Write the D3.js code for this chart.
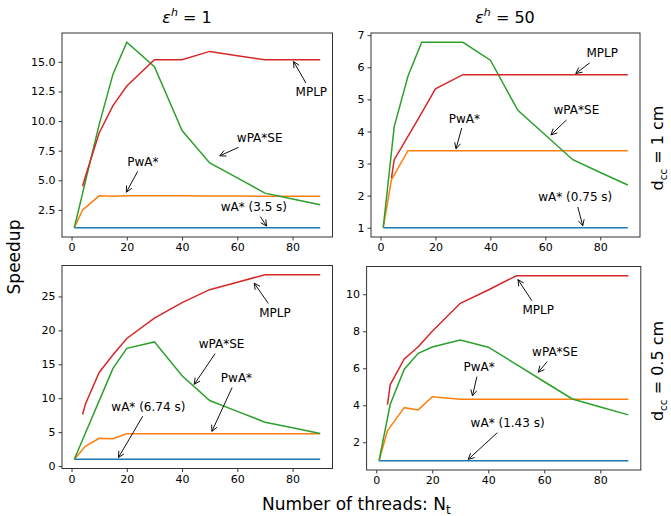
<!DOCTYPE html>
<html>
<head>
<meta charset="utf-8">
<script src="https://cdn.jsdelivr.net/npm/d3@7"></script>
<style>
  body { margin: 0; background: #fff; }
  text { font-family: 'DejaVu Sans', sans-serif; fill: #000; }
</style>
</head>
<body>
<div id="chart"></div>
<script>
// number of threads (shared by all panels)
const threads = [1, 4, 5, 10, 15, 20, 30, 40, 50, 60, 70, 80, 90]

// eps_h = 1, d_cc = 1 cm
const wA_e1_d1 = [1, 1, 1, 1, 1, 1, 1, 1, 1, 1, 1, 1, 1]
const pwA_e1_d1 = [1, 2.5, 2.7, 3.69, 3.65, 3.7, 3.7, 3.7, 3.67, 3.67, 3.65, 3.65, 3.65]
const wPASE_e1_d1 = [1, 3.9, 4.9, 9.7, 13.96, 16.65, 14.58, 9.2, 6.47, 5.2, 3.92, 3.42, 2.93]
const mplp_e1_d1 = [null, 4.5, 5.3, 9.0, 11.3, 12.96, 15.17, 15.17, 15.88, 15.52, 15.17, 15.17, 15.17]

// eps_h = 50, d_cc = 1 cm
const wA_e50_d1 = [1, 1, 1, 1, 1, 1, 1, 1, 1, 1, 1, 1, 1]
const pwA_e50_d1 = [1, 2.5, 2.65, 3.4, 3.4, 3.4, 3.4, 3.4, 3.4, 3.4, 3.4, 3.4, 3.4]
const wPASE_e50_d1 = [1, 3.36, 4.15, 5.72, 6.78, 6.78, 6.78, 6.22, 4.66, 3.89, 3.12, 2.72, 2.33]
const mplp_e50_d1 = [null, 2.55, 3.12, 3.85, 4.58, 5.33, 5.77, 5.77, 5.77, 5.77, 5.77, 5.77, 5.77]

// eps_h = 1, d_cc = 0.5 cm
const wA_e1_d05 = [1, 1, 1, 1, 1, 1, 1, 1, 1, 1, 1, 1, 1]
const pwA_e1_d05 = [1, 2.43, 2.9, 4.08, 4.03, 4.76, 4.76, 4.75, 4.75, 4.75, 4.75, 4.75, 4.75]
const wPASE_e1_d05 = [1, 3.87, 4.83, 9.61, 14.4, 17.35, 18.3, 13.3, 9.66, 8.06, 6.47, 5.66, 4.8]
const mplp_e1_d05 = [null, 7.6, 9.1, 13.8, 16.4, 18.8, 21.8, 24.1, 26.0, 27.1, 28.2, 28.2, 28.2]

// eps_h = 50, d_cc = 0.5 cm
const wA_e50_d05 = [1, 1, 1, 1, 1, 1, 1, 1, 1, 1, 1, 1, 1]
const pwA_e50_d05 = [1, 2.62, 2.83, 3.87, 3.75, 4.46, 4.33, 4.33, 4.33, 4.33, 4.33, 4.33, 4.33]
const wPASE_e50_d05 = [1, 3.3, 4.05, 5.95, 6.81, 7.15, 7.52, 7.14, 6.21, 5.27, 4.34, 3.91, 3.48]
const mplp_e50_d05 = [null, 4.03, 5.12, 6.5, 7.16, 8.0, 9.51, 10.23, 11.0, 11.0, 11.0, 11.0, 11.0]

const seriesNames = ['wA*', 'PwA*', 'wPA*SE', 'MPLP']
const seriesColors = ['#1f77b4', '#ff7f0e', '#2ca02c', '#d62728']

// annotations: label, arrow tip [threads, speedup], text centre [threads, speedup]
const notes_e1_d1 = [
  ['MPLP', [80, 15.17], [86.8, 12.43]],
  ['wPA*SE', [53, 7.0], [68.1, 8.61]],
  ['PwA*', [19.5, 3.85], [25.8, 6.58]],
  ['wA* (3.5 s)', [71, 1], [66, 2.76]]
]
const notes_e50_d1 = [
  ['MPLP', [70.5, 5.77], [80.7, 6.44]],
  ['wPA*SE', [61.5, 3.85], [71.3, 4.66]],
  ['PwA*', [27.3, 3.4], [30.5, 4.41]],
  ['wA* (0.75 s)', [73.8, 1], [70.9, 1.95]]
]
const notes_e1_d05 = [
  ['MPLP', [65.7, 27.2], [73.6, 22.6]],
  ['wPA*SE', [44, 11.8], [54.3, 18.0]],
  ['PwA*', [50.5, 4.85], [59.7, 13.0]],
  ['wA* (6.74 s)', [16.6, 1], [27.8, 8.78]]
]
const notes_e50_d05 = [
  ['MPLP', [50.2, 10.88], [57.8, 9.15]],
  ['wPA*SE', [57.4, 5.7], [63.8, 6.88]],
  ['PwA*', [34.2, 4.4], [36.7, 6.07]],
  ['wA* (1.43 s)', [32.3, 1], [46.9, 3.04]]
]

const xTicks = [0, 20, 40, 60, 80]
const yTicks_e1_d1 = [2.5, 5, 7.5, 10, 12.5, 15]
const yTicks_e50_d1 = [1, 2, 3, 4, 5, 6, 7]
const yTicks_e1_d05 = [0, 5, 10, 15, 20, 25]
const yTicks_e50_d05 = [2, 4, 6, 8, 10]

const width = 671
const height = 516

const svg = d3.select('#chart')
  .append('svg')
  .attr('width', width)
  .attr('height', height)

const panels = [
  { left: 62, right: 332.5, top: 33, bottom: 237, ticks: yTicks_e1_d1, fmt: d3.format('.1f'),
    data: [wA_e1_d1, pwA_e1_d1, wPASE_e1_d1, mplp_e1_d1], notes: notes_e1_d1 },
  { left: 371, right: 640, top: 33, bottom: 237, ticks: yTicks_e50_d1, fmt: d3.format('d'),
    data: [wA_e50_d1, pwA_e50_d1, wPASE_e50_d1, mplp_e50_d1], notes: notes_e50_d1 },
  { left: 62, right: 332.5, top: 265.5, bottom: 468.5, ticks: yTicks_e1_d05, fmt: d3.format('d'),
    data: [wA_e1_d05, pwA_e1_d05, wPASE_e1_d05, mplp_e1_d05], notes: notes_e1_d05 },
  { left: 366.6, right: 640.8, top: 266.5, bottom: 470, ticks: yTicks_e50_d05, fmt: d3.format('d'),
    data: [wA_e50_d05, pwA_e50_d05, wPASE_e50_d05, mplp_e50_d05], notes: notes_e50_d05 }
]

// matplotlib style 5% margins
function padded(ext) {
  let m = (ext[1] - ext[0]) * 0.05
  return [ext[0] - m, ext[1] + m]
}

panels.forEach(p => {
  let g = svg.append('g')
  let allY = p.data.flat().filter(v => v != null)

  let x = d3.scaleLinear().domain(padded(d3.extent(threads))).range([p.left, p.right])
  let y = d3.scaleLinear().domain(padded(d3.extent(allY))).range([p.bottom, p.top])

  // axes
  let xAxis = g.append('g')
    .attr('transform', 'translate(0,' + p.bottom + ')')
    .call(d3.axisBottom(x).tickValues(xTicks).tickSize(3.5).tickPadding(3).tickFormat(d3.format('d')))
  let yAxis = g.append('g')
    .attr('transform', 'translate(' + p.left + ',0)')
    .call(d3.axisLeft(y).tickValues(p.ticks).tickSize(3.5).tickPadding(3).tickFormat(p.fmt))
  ;[xAxis, yAxis].forEach(a => {
    a.select('.domain').remove()
    a.selectAll('line').attr('stroke', '#222').attr('stroke-width', 0.9)
    a.selectAll('text').attr('font-size', 11).attr('fill', '#222')
      .style('font-family', "'DejaVu Sans', sans-serif")
  })

  // lines
  let line = d3.line()
    .defined(d => d[1] != null)
    .x(d => x(d[0]))
    .y(d => y(d[1]))

  p.data.forEach((vals, i) => {
    g.append('path')
      .datum(threads.map((t, j) => [t, vals[j]]))
      .attr('d', line)
      .attr('fill', 'none')
      .attr('stroke', seriesColors[i])
      .attr('stroke-width', 1.5)
  })

  // frame
  g.append('rect')
    .attr('x', p.left).attr('y', p.top)
    .attr('width', p.right - p.left).attr('height', p.bottom - p.top)
    .attr('fill', 'none').attr('stroke', '#333').attr('stroke-width', 1)

  // annotations with '->' arrows
  p.notes.forEach(n => {
    let tx = x(n[2][0]), ty = y(n[2][1])
    let ax = x(n[1][0]), ay = y(n[1][1])
    let label = g.append('text')
      .attr('x', tx).attr('y', ty).attr('dy', '0.35em')
      .attr('text-anchor', 'middle')
      .attr('font-size', 12)
      .attr('fill', '#222')
      .text(n[0])
    let bb = label.node().getBBox()
    let pad = 2.5
    let hw = bb.width / 2 + pad, hh = bb.height / 2 + pad
    let cx = bb.x + bb.width / 2, cy = bb.y + bb.height / 2
    let dx = ax - cx, dy = ay - cy
    let t = Math.min(dx !== 0 ? hw / Math.abs(dx) : Infinity, dy !== 0 ? hh / Math.abs(dy) : Infinity)
    let sx = cx + dx * t, sy = cy + dy * t
    let len = Math.hypot(ax - sx, ay - sy)
    let ux = (ax - sx) / len, uy = (ay - sy) / len
    let ex = ax - ux * 2, ey = ay - uy * 2
    let hl = 6, hwid = 3
    let bx = ex - ux * hl, by = ey - uy * hl
    g.append('path')
      .attr('d', 'M' + sx + ',' + sy + 'L' + ex + ',' + ey +
        'M' + (bx - uy * hwid) + ',' + (by + ux * hwid) + 'L' + ex + ',' + ey +
        'L' + (bx + uy * hwid) + ',' + (by - ux * hwid))
      .attr('fill', 'none')
      .attr('stroke', '#111')
      .attr('stroke-width', 1)
  })
})

// column titles
const titles = [['1', 187], ['50', 505]]
titles.forEach(tt => {
  let t = svg.append('text')
    .attr('x', tt[1]).attr('y', 23)
    .attr('text-anchor', 'middle')
    .attr('font-size', 16)
  t.append('tspan').attr('font-style', 'italic').text('ε')
  t.append('tspan').attr('font-style', 'italic').attr('font-size', 11).attr('dy', -7).text('h')
  t.append('tspan').attr('dy', 7).text(' = ' + tt[0])
})

// row labels
const rowLabels = [['1 cm', 148], ['0.5 cm', 371]]
rowLabels.forEach(r => {
  let t = svg.append('text')
    .attr('transform', 'translate(663,' + r[1] + ') rotate(-90)')
    .attr('text-anchor', 'middle')
    .attr('font-size', 16)
  t.append('tspan').text('d')
  t.append('tspan').attr('font-size', 10.5).attr('dy', 3.5).text('cc')
  t.append('tspan').attr('dy', -3.5).text(' = ' + r[0])
})

svg.append('text')
  .attr('transform', 'translate(20,257) rotate(-90)')
  .attr('text-anchor', 'middle')
  .attr('font-size', 17)
  .text('Speedup')

let xl = svg.append('text')
  .attr('x', 262).attr('y', 510)
  .attr('font-size', 17)
xl.append('tspan').text('Number of threads: N')
xl.append('tspan').attr('font-size', 12).attr('dy', 4).text('t')
</script>
</body>
</html>
